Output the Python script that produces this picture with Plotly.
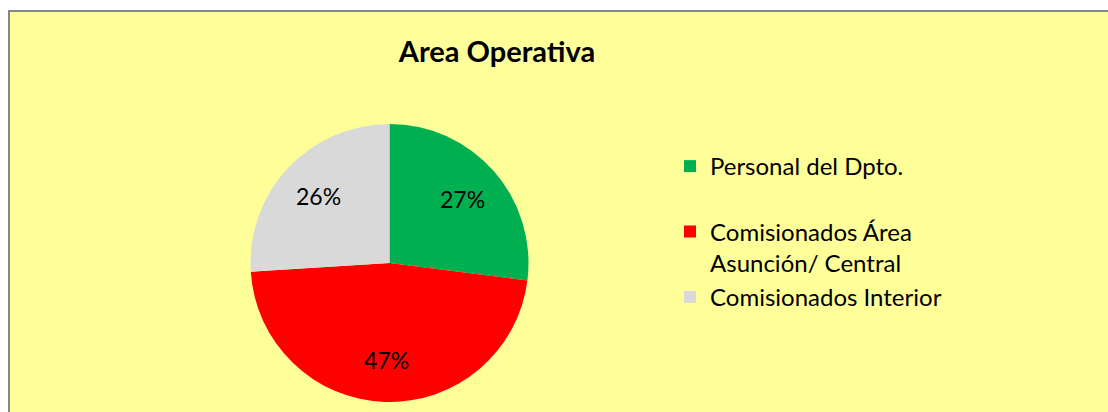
import math
import plotly.graph_objects as go

title = "Area Operativa"
categories = ["Personal del Dpto.<br> ", "Comisionados Área<br>Asunción/ Central", "Comisionados Interior"]
values = [27, 47, 26]
colors = ["#00B050", "#FF0000", "#D9D9D9"]

W, H = 1108, 412
cx, cy, R = 389.5, 263, 139
label_r = 0.70

fig = go.Figure(go.Pie(
    labels=categories,
    values=values,
    sort=False,
    direction="clockwise",
    rotation=0,
    marker=dict(colors=colors, line=dict(width=0)),
    textinfo="none",
    domain=dict(x=[(cx - R) / W, (cx + R) / W], y=[(H - cy - R) / H, (H - cy + R) / H]),
    hoverinfo="label+percent",
))

# percentage labels at the middle angle of each slice
total = sum(values)
annotations = []
cum = 0
for v in values:
    mid = (cum + v / 2) / total * 2 * math.pi
    cum += v
    px = cx + label_r * R * math.sin(mid)
    py = cy - label_r * R * math.cos(mid)
    annotations.append(dict(
        x=px / W, y=1 - py / H, xref="paper", yref="paper",
        text=f"{round(v / total * 100)}%", showarrow=False,
        font=dict(family="Lato", size=23, color="black"),
        xanchor="center", yanchor="middle",
    ))

fig.update_layout(
    width=W, height=H,
    margin=dict(l=0, r=0, t=0, b=0),
    paper_bgcolor="white",
    plot_bgcolor="white",
    title=dict(text="<b>" + title + "</b>", x=497 / W, xanchor="center",
               y=1 - 52 / H, yanchor="middle",
               font=dict(family="Lato", size=29, color="black")),
    showlegend=True,
    legend=dict(x=670 / W, xanchor="left", y=1 - 144 / H, yanchor="top",
                font=dict(family="Lato", size=24, color="black"),
                bgcolor="rgba(0,0,0,0)", valign="top", traceorder="normal"),
    annotations=annotations,
    shapes=[dict(type="rect", xref="paper", yref="paper", x0=9 / W, x1=1.02, y0=-0.02, y1=1 - 11 / H,
                 fillcolor="#FFFF99", line=dict(color="#868686", width=2), layer="below")],
)

fig.write_html("out.html",
               config={"displayModeBar": False},
               post_script="document.body.style.margin='0';document.body.style.overflow='hidden';")
